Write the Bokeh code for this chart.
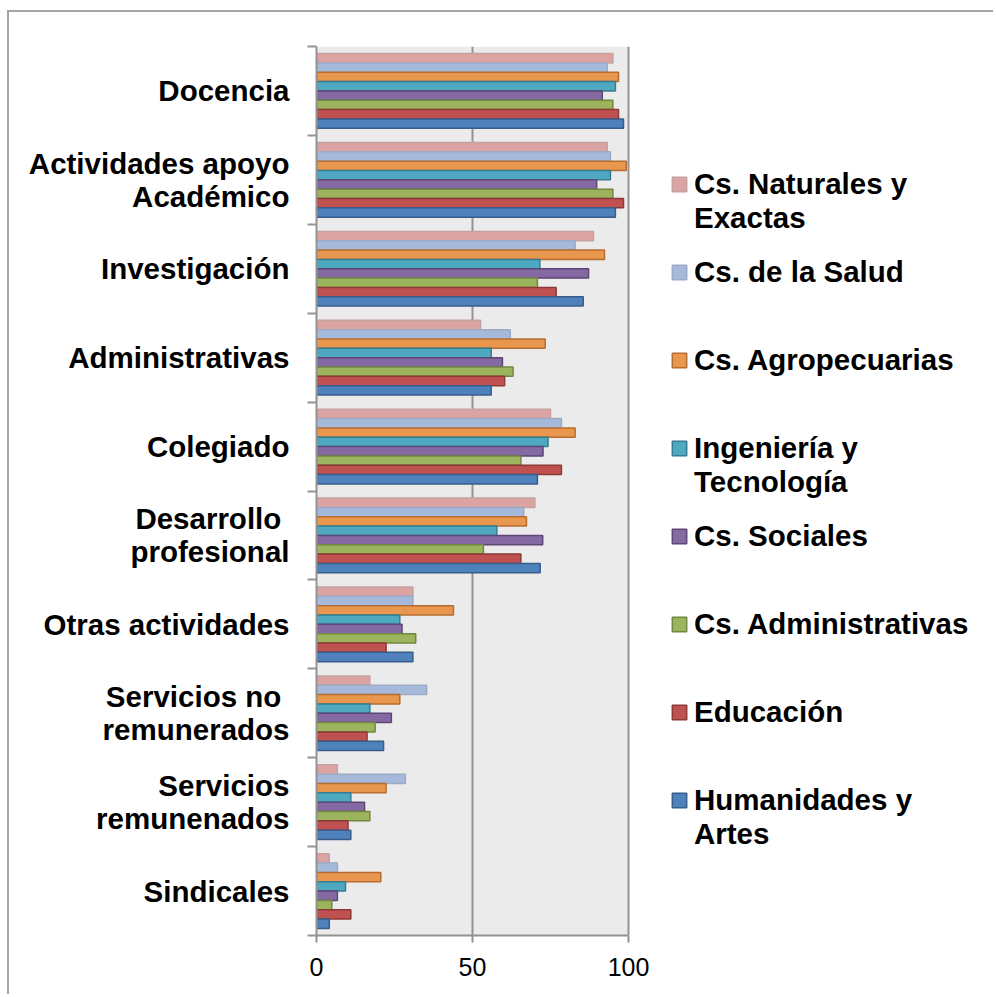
from bokeh.plotting import figure
from bokeh.models import (Range1d, LinearAxis, FixedTicker, Legend, LegendItem,
                          ColumnDataSource, BoxAnnotation)
from bokeh.transform import dodge
from bokeh.embed import file_html
from bokeh.resources import INLINE

# ---------------- data ----------------
categories = ["Docencia", "Actividades apoyo\nAcadémico", "Investigación",
              "Administrativas", "Colegiado", "Desarrollo \nprofesional",
              "Otras actividades", "Servicios no \nremunerados",
              "Servicios\nremunenados", "Sindicales"]

series_labels = ["Cs. Naturales y\nExactas", "Cs. de la Salud", "Cs. Agropecuarias",
                 "Ingeniería y\nTecnología", "Cs. Sociales", "Cs. Administrativas",
                 "Educación", "Humanidades y\nArtes"]

naturales = [95.0, 93.2, 88.8, 52.6, 75.0, 70.0, 30.9, 17.1, 6.7, 4.1]
salud = [93.2, 94.2, 82.9, 62.1, 78.5, 66.4, 30.9, 35.3, 28.5, 6.7]
agropecuarias = [96.8, 99.3, 92.3, 73.3, 82.9, 67.3, 43.9, 26.7, 22.3, 20.6]
ingenieria = [95.8, 94.2, 71.6, 56.0, 74.2, 57.8, 26.7, 17.1, 11.0, 9.3]
sociales = [91.6, 89.8, 87.2, 59.6, 72.6, 72.5, 27.4, 24.0, 15.4, 6.7]
administrativas = [95.0, 95.0, 70.8, 63.0, 65.5, 53.5, 31.8, 18.8, 17.1, 4.9]
educacion = [96.8, 98.4, 76.8, 60.3, 78.5, 65.5, 22.3, 16.2, 10.1, 11.0]
humanidades = [98.4, 95.8, 85.5, 56.0, 70.8, 71.7, 30.9, 21.5, 11.0, 4.1]

x_ticks = [0, 50, 100]
x_max = 100

# ---------------- styles ----------------
fills = ["#DBA3A2", "#A5B9DB", "#E9964E", "#4EA8BF", "#8569A3", "#9CB45E", "#BF5250", "#4F81BD"]
lines = ["#C4A2A2", "#9CAAC6", "#B66D31", "#357D91", "#5C4776", "#71893F", "#8C3836", "#385D8A"]
GRAY = "#939393"
FONT = "Liberation Sans"
FS = "29.5px"

n = len(categories)
# category slot centres, first category at the top
pos = [n - i - 0.5 for i in range(n)]

cols = ["nat", "sal", "agr", "ing", "soc", "adm", "edu", "hum"]
source = ColumnDataSource(dict(pos=pos, nat=naturales, sal=salud, agr=agropecuarias,
                               ing=ingenieria, soc=sociales, adm=administrativas,
                               edu=educacion, hum=humanidades))

# the frame extends to the right so the legend can sit inside it;
# the value axis itself is bounded to 0..100 (312 px)
frame_w = 986 - 307 - 10
frame_h = 984 - 34 - 61
p = figure(width=986, height=984, output_backend="svg", toolbar_location=None,
           x_range=Range1d(0, x_max * frame_w / 312), y_range=Range1d(0, n),
           min_border_left=307, min_border_right=10, min_border_top=34,
           min_border_bottom=61, background_fill_color="white",
           border_fill_color="white", outline_line_color=None)

p.add_layout(BoxAnnotation(left=0, right=x_max, fill_color="#EBEBEB", fill_alpha=1,
                           line_color=None, level="image"))

bar_h = 0.105
renderers = []
for k, c in enumerate(cols):
    off = (3.5 - k) * bar_h
    r = p.hbar(y=dodge("pos", off), left=0, right=c, height=bar_h,
               source=source, fill_color=fills[k], line_color=lines[k], line_width=1.5)
    renderers.append(r)

# x axis
xa = p.xaxis[0]
xa.ticker = FixedTicker(ticks=x_ticks)
xa.bounds = (0, x_max)
xa.major_label_text_font = FONT
xa.major_label_text_font_size = "25px"
xa.major_label_text_color = "black"
xa.axis_line_color = GRAY
xa.axis_line_width = 2
xa.major_tick_line_color = GRAY
xa.major_tick_line_width = 2
xa.major_tick_out = 7
xa.major_tick_in = 0
xa.minor_tick_line_color = None
xa.major_label_standoff = 15

p.xgrid.grid_line_color = GRAY
p.xgrid.grid_line_width = 2
p.ygrid.grid_line_color = None

# y axes: boundary ticks (inner) + category labels (outer)
edge_axis = p.yaxis[0]
edge_axis.ticker = FixedTicker(ticks=list(range(n + 1)))
edge_axis.major_label_overrides = {i: "" for i in range(n + 1)}
edge_axis.major_label_text_font_size = "0px"
edge_axis.major_label_standoff = 0
edge_axis.major_tick_out = 9
edge_axis.major_tick_in = 0
edge_axis.major_tick_line_color = GRAY
edge_axis.major_tick_line_width = 2
edge_axis.axis_line_color = GRAY
edge_axis.axis_line_width = 2
edge_axis.minor_tick_line_color = None

label_axis = LinearAxis(ticker=FixedTicker(ticks=pos),
                        major_label_overrides={pv: c for pv, c in zip(pos, categories)},
                        axis_line_color=None, major_tick_line_color=None,
                        major_tick_out=0, major_tick_in=0, minor_tick_line_color=None,
                        major_label_text_font=FONT, major_label_text_font_size=FS,
                        major_label_text_font_style="bold", major_label_text_color="black",
                        major_label_text_line_height=1.0, major_label_standoff=18)
p.add_layout(label_axis, "left")

# legend: one entry per Legend so the entries keep an even 88 px pitch;
# two-line labels get an empty first line so the swatch lines up with
# their first text line
first_center = 184 - 46      # px below the frame top
pitch = 88
for k in range(len(cols)):
    two_line = "\n" in series_labels[k]
    text = ("\n" + series_labels[k]) if two_line else series_labels[k]
    h = 102 if two_line else 88
    centre_from_bottom = frame_h - (first_center + pitch * k)
    lg = Legend(items=[LegendItem(label=text, renderers=[renderers[k]])],
                location=(354, centre_from_bottom - h / 2),
                glyph_width=18, glyph_height=18, label_standoff=6,
                label_text_font=FONT, label_text_font_size=FS,
                label_text_font_style="bold", label_text_color="black",
                label_text_line_height=0.9, label_height=88,
                spacing=0, padding=0, margin=0, border_line_color=None,
                background_fill_alpha=0)
    p.add_layout(lg)

p.styles = {"border-top": "2px solid #A5A5A5", "border-left": "2px solid #A5A5A5",
            "margin-top": "10px", "margin-left": "7px"}

open("out.html", "w").write(file_html(p, INLINE))
